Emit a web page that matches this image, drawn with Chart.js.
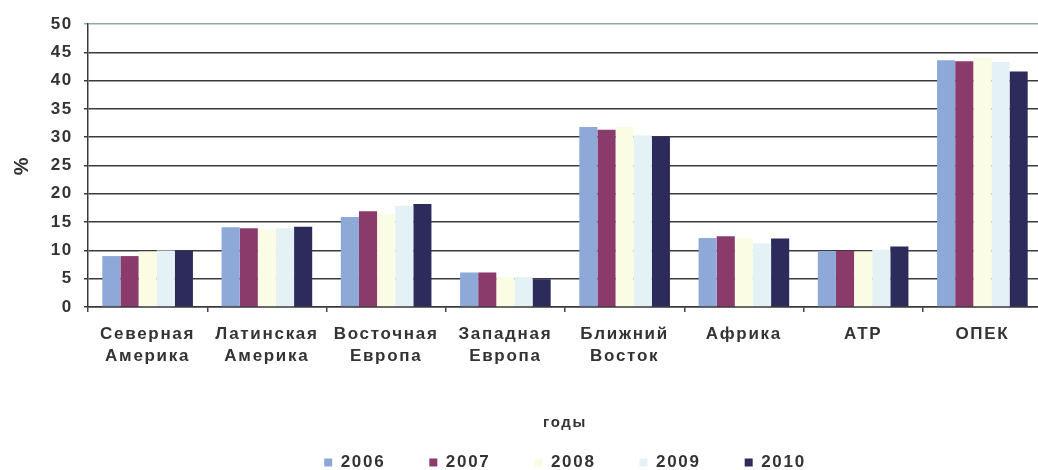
<!DOCTYPE html>
<html>
<head>
<meta charset="utf-8">
<script src="https://cdn.jsdelivr.net/npm/chart.js@4"></script>
<style>
  html, body { margin: 0; padding: 0; background: #fff; overflow: hidden; }
  #wrap { width: 1046px; height: 470px; }
</style>
</head>
<body>
<div id="wrap"><canvas id="shareChart"></canvas></div>
<script>
// regions (two-line labels)
const regions = [
  ["Северная", "Америка"],
  ["Латинская", "Америка"],
  ["Восточная", "Европа"],
  ["Западная", "Европа"],
  ["Ближний", "Восток"],
  ["Африка"],
  ["АТР"],
  ["ОПЕК"]
];

const years = ["2006", "2007", "2008", "2009", "2010"];

// shares, %
const v2006 = [9.0, 14.1, 15.9, 6.1, 31.8, 12.2, 9.9, 43.6];
const v2007 = [9.0, 13.9, 16.9, 6.1, 31.3, 12.5, 9.9, 43.4];
const v2008 = [9.8, 13.7, 16.4, 5.3, 31.8, 12.2, 9.8, 44.0];
const v2009 = [10.0, 13.9, 17.9, 5.3, 30.3, 11.2, 10.1, 43.3];
const v2010 = [9.9, 14.2, 18.2, 4.9, 30.1, 12.1, 10.7, 41.6];

const yTicks = [0, 5, 10, 15, 20, 25, 30, 35, 40, 45, 50];

const colors = ["#8EA9D8", "#8B3B6B", "#FBFCE4", "#E4F2F6", "#2D2A5C"];
const series = [v2006, v2007, v2008, v2009, v2010];

// a bit of letter spacing, the scan looks stretched
const spacing = {
  id: "spacing",
  beforeLayout(chart) { chart.ctx.letterSpacing = "1.7px"; },
  beforeDraw(chart) { chart.ctx.letterSpacing = "1.7px"; }
};

const ctx = document.getElementById("shareChart").getContext("2d");

new Chart(ctx, {
  type: "bar",
  data: {
    labels: regions,
    datasets: years.map((y, i) => ({
      label: y,
      data: series[i],
      backgroundColor: colors[i],
      borderWidth: 0,
      categoryPercentage: 0.76,
      barPercentage: 1.0
    }))
  },
  options: {
    responsive: true,
    maintainAspectRatio: false,
    animation: false,
    layout: { padding: { top: 24, left: 0, right: 4, bottom: -11 } },
    plugins: {
      tooltip: { enabled: false },
      legend: {
        position: "bottom",
        fullSize: false,
        labels: {
          boxWidth: 8,
          boxHeight: 8,
          padding: 44,
          color: "#333",
          font: { family: "Liberation Sans, Arial, sans-serif", size: 17, weight: "bold" }
        }
      }
    },
    scales: {
      x: {
        afterFit(scale) { scale.height = 103; },
        grid: {
          display: true,
          drawOnChartArea: false,
          drawTicks: true,
          tickLength: 5,
          color: "#444",
          lineWidth: 1.5
        },
        border: { display: true, color: "#3a3a3a", width: 1.5 },
        ticks: {
          padding: 11,
          color: "#333",
          font: { family: "Liberation Sans, Arial, sans-serif", size: 17, weight: "bold", lineHeight: 1.3 }
        },
        title: {
          display: true,
          text: "годы",
          color: "#333",
          padding: { top: 46, bottom: -22 },
          font: { family: "Liberation Sans, Arial, sans-serif", size: 15, weight: "bold" }
        }
      },
      y: {
        min: 0,
        max: 50,
        afterFit(scale) { scale.width = 88; },
        afterBuildTicks(scale) { scale.ticks = yTicks.map(v => ({ value: v })); },
        grid: {
          color: (c) => (c.tick && c.tick.value === 50 ? "#8FAAAA" : "#3a3a3a"),
          lineWidth: 1.5,
          tickLength: 4
        },
        border: { display: true, color: "#3a3a3a", width: 1.5 },
        ticks: {
          padding: 11,
          color: "#333",
          font: { family: "Liberation Sans, Arial, sans-serif", size: 17, weight: "bold" }
        },
        title: {
          display: true,
          text: "%",
          color: "#333",
          padding: { top: 10, bottom: 0 },
          font: { family: "Liberation Sans, Arial, sans-serif", size: 20, weight: "bold" }
        }
      }
    }
  },
  plugins: [spacing]
});
</script>
</body>
</html>
